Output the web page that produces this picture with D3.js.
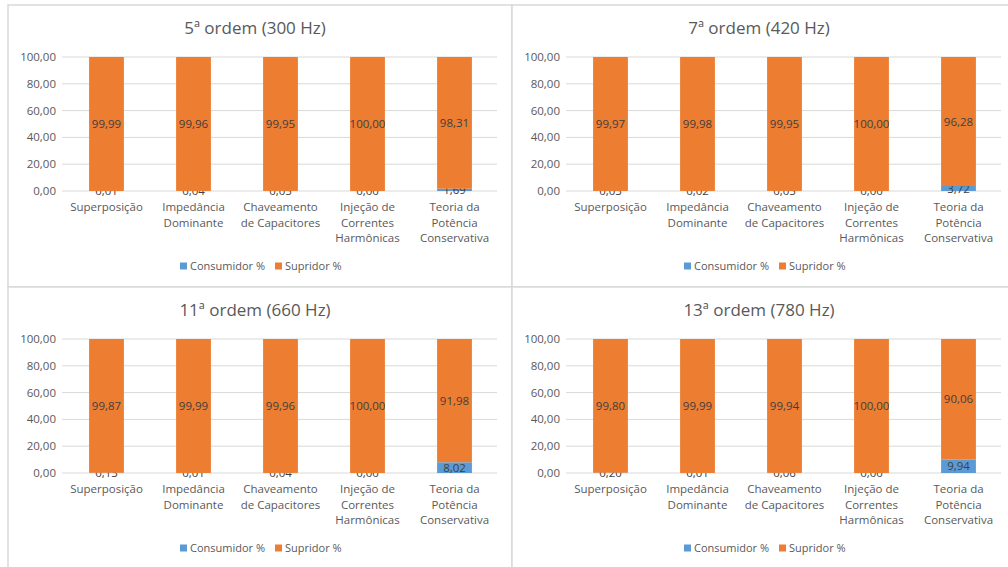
<!DOCTYPE html>
<html>
<head>
<meta charset="utf-8">
<script src="https://cdn.jsdelivr.net/npm/d3@7"></script>
<style>
  body { margin: 0; background: #fff; }
  svg text { font-family: "Open Sans", "Noto Sans", sans-serif; fill: #595959; }
</style>
</head>
<body>
<div id="chart"></div>
<script>
// categories (multi-line labels)
const categories = ["Superposição", "Impedância Dominante", "Chaveamento de Capacitores", "Injeção de Correntes Harmônicas", "Teoria da Potência Conservativa"];
const categoryLines = [["Superposição"], ["Impedância", "Dominante"], ["Chaveamento", "de Capacitores"], ["Injeção de", "Correntes", "Harmônicas"], ["Teoria da", "Potência", "Conservativa"]];

const titles = ["5ª  ordem (300 Hz)", "7ª  ordem (420 Hz)", "11ª  ordem (660 Hz)", "13ª  ordem (780 Hz)"];

const consumidor5 = [0.01, 0.04, 0.05, 0.00, 1.69];
const supridor5 = [99.99, 99.96, 99.95, 100.00, 98.31];
const consumidor7 = [0.03, 0.02, 0.05, 0.00, 3.72];
const supridor7 = [99.97, 99.98, 99.95, 100.00, 96.28];
const consumidor11 = [0.13, 0.01, 0.04, 0.00, 8.02];
const supridor11 = [99.87, 99.99, 99.96, 100.00, 91.98];
const consumidor13 = [0.20, 0.01, 0.06, 0.00, 9.94];
const supridor13 = [99.80, 99.99, 99.94, 100.00, 90.06];

const yTicks = [0, 20, 40, 60, 80, 100];
const seriesNames = ["Consumidor %", "Supridor %"];
const colors = ["#5B9BD5", "#ED7D31"];

const panels = [
	{ title: titles[0], cons: consumidor5, sup: supridor5 },
	{ title: titles[1], cons: consumidor7, sup: supridor7 },
	{ title: titles[2], cons: consumidor11, sup: supridor11 },
	{ title: titles[3], cons: consumidor13, sup: supridor13 }
];

const W = 1008, H = 567;
const svg = d3.select("#chart").append("svg")
	.attr("width", W).attr("height", H);

const pw = 504, ph = 282;
const fmt = v => d3.format(".2f")(v).replace(".", ",");

panels.forEach((p, i) => {
	const col = i % 2, row = Math.floor(i / 2);
	const ox = 8 + col * pw, oy = 5 + row * ph;
	const g = svg.append("g").attr("transform", `translate(${ox},${oy})`);

	g.append("rect")
		.attr("width", pw).attr("height", ph)
		.attr("fill", "#fff")
		.attr("stroke", "#d9d9d9").attr("stroke-width", 1.5);

	g.append("text")
		.attr("x", 247).attr("y", 29)
		.attr("text-anchor", "middle")
		.style("font-size", "17px")
		.text(p.title);

	const x = d3.scaleBand().domain(categories).range([55, 490]).paddingInner(0.6).paddingOuter(0.3);
	const y = d3.scaleLinear().domain([0, 100]).range([186, 52]);

	// gridlines
	g.append("g").selectAll("line").data(yTicks).join("line")
		.attr("x1", 54).attr("x2", 489)
		.attr("y1", d => y(d)).attr("y2", d => y(d))
		.attr("stroke", "#d9d9d9").attr("stroke-width", 1);

	// y axis labels
	g.append("g").selectAll("text").data(yTicks).join("text")
		.attr("x", 48).attr("y", d => y(d) + 4)
		.attr("text-anchor", "end")
		.style("font-size", "11.5px")
		.text(d => fmt(d));

	const rows = categories.map((c, j) => ({ cat: c, cons: p.cons[j], sup: p.sup[j] }));

	// stacked bars
	const stack = d3.stack().keys(["cons", "sup"])(rows);
	stack.forEach((s, k) => {
		g.append("g").selectAll("rect").data(s).join("rect")
			.attr("x", d => x(d.data.cat))
			.attr("width", x.bandwidth())
			.attr("y", d => y(d[1]))
			.attr("height", d => y(d[0]) - y(d[1]))
			.attr("fill", colors[k]);
		g.append("g").selectAll("text").data(s).join("text")
			.attr("x", d => x(d.data.cat) + x.bandwidth() / 2)
			.attr("y", d => (y(d[0]) + y(d[1])) / 2 + 4)
			.attr("text-anchor", "middle")
			.style("font-size", "11.5px")
			.style("fill", "#404040")
			.text(d => fmt(d[1] - d[0]));
	});

	// category labels
	const cl = g.append("g").selectAll("text").data(categories).join("text")
		.attr("x", d => x(d) + x.bandwidth() / 2)
		.attr("y", 206)
		.attr("text-anchor", "middle")
		.style("font-size", "11.5px");
	cl.each(function (d, j) {
		d3.select(this).selectAll("tspan").data(categoryLines[j]).join("tspan")
			.attr("x", x(d) + x.bandwidth() / 2)
			.attr("dy", (t, k) => k === 0 ? 0 : 15.5)
			.text(t => t);
	});

	// legend
	const leg = g.append("g").attr("transform", "translate(172,261)");
	const lx = [0, 95];
	seriesNames.forEach((n, k) => {
		leg.append("rect").attr("x", lx[k]).attr("y", -3.5).attr("width", 7).attr("height", 7).attr("fill", colors[k]);
		leg.append("text").attr("x", lx[k] + 10).attr("y", 4).style("font-size", "11px").text(n);
	});
});
</script>
</body>
</html>
